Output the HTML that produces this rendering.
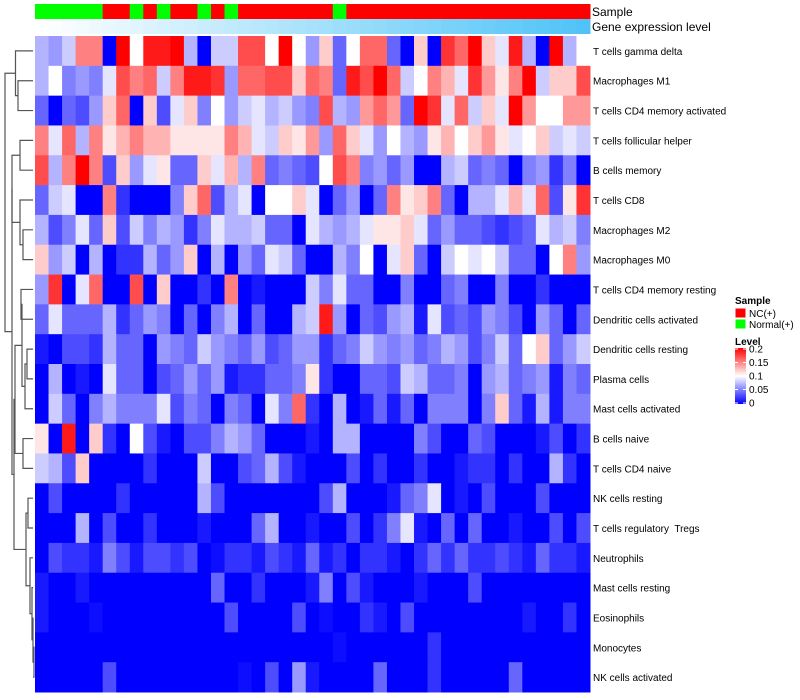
<!DOCTYPE html>
<html><head><meta charset="utf-8"><style>
html,body{margin:0;padding:0;background:#fff;}
svg{display:block;font-family:"Liberation Sans",Arial,sans-serif;}
text{white-space:pre;}
</style></head><body>
<svg id="chart" width="800" height="700" viewBox="0 0 800 700"></svg>
<script>
const rowNames = ["T cells gamma delta","Macrophages M1","T cells CD4 memory activated","T cells follicular helper","B cells memory","T cells CD8","Macrophages M2","Macrophages M0","T cells CD4 memory resting","Dendritic cells activated","Dendritic cells resting","Plasma cells","Mast cells activated","B cells naive","T cells CD4 naive","NK cells resting","T cells regulatory  Tregs","Neutrophils","Mast cells resting","Eosinophils","Monocytes","NK cells activated"];
const sampleGroups = ["N","N","N","N","N","C","C","N","C","N","C","C","N","C","N","C","C","C","C","C","C","C","N","C","C","C","C","C","C","C","C","C","C","C","C","C","C","C","C","C","C"];
const tGammaDelta = [0.07,0.06,0.08,0.15,0.15,0,0.2,0.1,0.19,0.19,0.2,0.07,0,0.08,0.08,0.17,0.17,0.1,0.2,0.1,0.06,0.12,0.04,0.1,0.16,0.16,0.04,0,0.12,0,0.18,0.16,0.2,0.12,0.09,0.19,0.07,0,0.2,0.07,0.1];
const macM1 = [0.07,0.1,0.05,0.06,0.05,0.09,0.17,0.15,0.16,0.08,0.15,0.19,0.19,0.18,0.06,0.16,0.16,0.17,0.17,0.12,0.16,0.15,0.04,0.19,0.17,0.2,0.16,0.08,0.1,0.15,0.13,0.09,0.18,0.14,0.11,0.15,0.2,0.08,0.12,0.12,0.17];
const tCD4MemAct = [0.04,0,0.04,0.03,0.06,0.12,0.16,0,0.12,0.03,0.09,0.12,0.05,0.1,0.06,0.08,0.09,0.07,0.08,0.06,0.05,0.17,0.07,0.06,0.14,0.16,0.14,0.04,0.2,0.18,0.09,0.16,0.08,0.12,0.09,0.2,0.14,0.1,0.1,0.14,0.14];
const tFollicular = [0.15,0.09,0.16,0.07,0.15,0.11,0.13,0.15,0.13,0.13,0.11,0.11,0.11,0.11,0.15,0.13,0.09,0.08,0.12,0.11,0.14,0.06,0.16,0.12,0.09,0.06,0.1,0.07,0.06,0.11,0.13,0.1,0.12,0.14,0.11,0.09,0.1,0.12,0.08,0.09,0.08];
const bMemory = [0.17,0.07,0.15,0.2,0.15,0.03,0.12,0.06,0.09,0.11,0.04,0.04,0.12,0.09,0.13,0.07,0.15,0.04,0.05,0.04,0.03,0.1,0.17,0.15,0.05,0.06,0.04,0.06,0,0,0.07,0.08,0.04,0.05,0.04,0,0.05,0.06,0.02,0.05,0];
const tCD8 = [0.04,0.08,0.09,0,0,0.15,0.02,0,0,0,0.05,0.12,0.16,0.03,0.07,0.09,0,0.1,0.1,0.12,0.09,0,0.04,0.06,0,0.04,0.15,0.11,0.12,0.15,0.04,0,0.07,0.07,0.09,0.13,0.09,0.16,0.03,0.11,0.18];
const macM2 = [0.07,0.03,0.05,0.09,0.04,0.12,0.03,0.08,0.05,0.07,0.06,0.02,0.05,0.09,0.07,0.07,0.08,0.04,0.04,0,0.09,0.07,0.06,0.07,0.09,0.11,0.11,0.12,0.09,0.04,0.06,0.04,0.04,0.03,0.02,0.03,0.04,0.09,0.07,0.08,0.05];
const macM0 = [0.12,0.06,0.08,0,0.07,0,0.02,0.02,0.07,0.04,0.06,0.12,0,0.07,0,0.06,0.04,0.09,0.08,0.04,0,0,0.07,0.05,0.1,0,0.09,0.12,0.04,0,0.08,0.1,0.09,0.1,0.08,0.04,0.04,0,0.1,0.15,0.06];
const tCD4MemRest = [0.06,0.18,0,0.09,0.16,0,0,0.17,0,0.12,0,0,0.02,0,0.15,0,0.01,0,0,0,0.08,0.05,0.09,0.04,0.04,0,0,0.05,0,0,0.04,0.05,0,0,0.05,0,0,0.02,0,0,0];
const dcActivated = [0.04,0.09,0.04,0.04,0.04,0.07,0.02,0.04,0.06,0.05,0,0.04,0,0.05,0.07,0,0.04,0,0,0.07,0.08,0.19,0.06,0,0.04,0.03,0.06,0.07,0.01,0.09,0.03,0.04,0.03,0.06,0.05,0.03,0,0.06,0.04,0,0.04];
const dcResting = [0.01,0,0.03,0.03,0.02,0.07,0.04,0.04,0,0.06,0.05,0.04,0.08,0.06,0.05,0.04,0.06,0.03,0.04,0.06,0.06,0.02,0.04,0.05,0.08,0.06,0.05,0.06,0.04,0.05,0.07,0.06,0.03,0.05,0.08,0.04,0.1,0.12,0.04,0.06,0.08];
const plasma = [0,0.07,0,0.01,0,0.09,0.04,0.04,0,0.03,0.04,0.06,0.04,0.06,0.01,0.02,0.02,0.04,0.04,0.05,0.11,0.02,0,0,0.04,0.04,0.03,0.08,0.07,0.04,0.04,0.05,0,0.06,0.07,0.04,0.05,0.06,0.01,0.05,0.04];
const mastActivated = [0,0.08,0.04,0,0.05,0.07,0.05,0.05,0.05,0.09,0.03,0.05,0.04,0,0.05,0.04,0,0.09,0.05,0.16,0.02,0,0.07,0,0.01,0.04,0.01,0.04,0,0.05,0.05,0.05,0,0.05,0.12,0.04,0.01,0.07,0.01,0.05,0.05];
const bNaive = [0.11,0,0.19,0,0.12,0.02,0,0.1,0.03,0.01,0,0.03,0.03,0.05,0.07,0.06,0.04,0,0,0,0.01,0,0.07,0.07,0,0,0,0,0.05,0.03,0,0,0.04,0.03,0,0,0,0.01,0.03,0,0.02];
const tCD4Naive = [0.08,0.07,0.03,0.12,0,0,0,0,0.02,0,0,0,0.08,0,0,0.03,0.04,0.07,0.03,0.01,0,0,0,0.03,0,0.02,0,0,0.02,0,0,0.01,0.02,0.02,0,0.02,0,0,0.07,0.02,0];
const nkResting = [0,0.03,0,0,0,0,0.02,0,0,0,0,0,0.07,0.03,0,0,0,0,0,0,0,0.03,0.07,0,0,0,0.01,0.04,0.05,0.09,0,0.01,0,0.03,0,0,0,0.03,0,0,0];
const tregs = [0,0,0,0.07,0,0.03,0,0,0.02,0,0,0,0.01,0,0,0,0.04,0.07,0,0,0.01,0,0,0.03,0,0.02,0.05,0.09,0.01,0,0.04,0,0.04,0,0,0.01,0,0,0.03,0,0.03];
const neutrophils = [0,0.03,0.02,0.02,0.01,0.05,0.03,0.01,0.03,0.03,0.02,0.03,0,0.005,0.02,0.02,0.01,0.03,0.02,0.01,0.04,0.01,0.02,0,0.02,0.02,0.01,0,0.02,0.04,0.02,0.04,0.02,0.02,0.03,0.02,0.01,0.04,0.02,0.02,0.01];
const mastResting = [0.01,0,0,0.01,0,0,0,0,0,0,0,0,0,0.04,0,0,0.02,0,0,0,0.01,0.05,0,0.03,0.01,0,0,0,0.01,0,0,0,0.03,0,0,0,0,0,0,0,0];
const eosinophils = [0.01,0,0,0,0.005,0,0,0,0,0,0,0,0,0,0.03,0,0,0,0,0.03,0,0.005,0,0,0.02,0.01,0,0.03,0,0,0,0,0,0,0,0,0.01,0,0,0.02,0];
const monocytes = [0,0,0,0,0,0,0,0,0,0,0,0,0,0,0,0,0,0,0,0,0,0,0.005,0,0,0,0,0,0,0.02,0,0,0,0,0,0,0,0,0,0,0];
const nkActivated = [0,0,0,0,0,0.03,0,0,0,0,0,0,0,0,0,0.005,0,0.03,0,0.06,0.01,0,0,0,0,0.04,0,0,0,0.02,0,0,0,0,0,0.04,0,0,0,0,0];
const series = [tGammaDelta,macM1,tCD4MemAct,tFollicular,bMemory,tCD8,macM2,macM0,tCD4MemRest,dcActivated,dcResting,plasma,mastActivated,bNaive,tCD4Naive,nkResting,tregs,neutrophils,mastResting,eosinophils,monocytes,nkActivated];
const levelTicks = [0.2,0.15,0.1,0.05,0];
const sampleLegend = ["NC(+)","Normal(+)"];
const merges = [[1,2,18],[0,22,15.5],[3,4,20],[6,7,23],[5,25,20],[24,26,12],[8,9,21],[10,11,27],[29,12,25],[28,30,22],[13,14,23],[31,32,15],[15,16,28],[20,21,34],[19,35,33],[18,36,32],[17,37,30],[34,38,26],[33,39,14],[27,40,12],[23,41,5]];

const NS="http://www.w3.org/2000/svg";
const svg=document.getElementById('chart');
const X0=35,X1=590,Y0=36,Y1=692;
const nCols=tGammaDelta.length,nRows=series.length;
const cw=(X1-X0)/nCols,rh=(Y1-Y0)/nRows;
const xScale=i=>X0+i*cw;
const yScale=r=>Y0+r*rh;
function lerp(a,b,t){return Math.round(a+(b-a)*t);}
function levelColor(v){
  let t=Math.max(0,Math.min(1,v/0.2));
  if(t<0.5){const u=t/0.5;return `rgb(${lerp(0,255,u)},${lerp(0,255,u)},255)`;}
  const u=(t-0.5)/0.5;return `rgb(255,${lerp(255,0,u)},${lerp(255,0,u)})`;
}
function el(tag,attrs,parent){const e=document.createElementNS(NS,tag);for(const k in attrs)e.setAttribute(k,attrs[k]);(parent||svg).appendChild(e);return e;}

const gS=el('g',{});


sampleGroups.forEach((g,i)=>{
  const r=el('rect',{x:xScale(i),y:4,width:cw+0.5,height:15,fill:g==="N"?"#00ff00":"#ff0000"},gS);
  
  
});
const gG=el('g',{});


for(let i=0;i<nCols;i++){
  const t=i/(nCols-1);
  const r=el('rect',{x:xScale(i),y:19,width:cw+0.5,height:15,fill:`rgb(${lerp(255,79,t)},${lerp(255,195,t)},${lerp(255,247,t)})`},gG);
  
  
}
const t1=el('text',{x:592,y:16,'font-size':12,fill:'#000'});t1.textContent='Sample';


const t2=el('text',{x:592,y:31,'font-size':12,fill:'#000'});t2.textContent='Gene expression level';



const gH=el('g',{});


series.forEach((row,r)=>{
  row.forEach((v,c)=>{
    const rect=el('rect',{x:xScale(c),y:yScale(r),width:cw+0.5,height:rh+0.5,fill:levelColor(v)},gH);
    
    
  });
  const lab=el('text',{x:593,y:yScale(r)+rh/2+4,'font-size':10,fill:'#000'});
  lab.textContent=rowNames[r];
  
  
});

const gD=el('g',{stroke:'#555','stroke-width':1.2,fill:'none'});


const nodeY={},nodeX={};
for(let i=0;i<nRows;i++){nodeY[i]=yScale(i)+rh/2;nodeX[i]=33;}
merges.forEach((m,k)=>{
  const id=nRows+k,[a,b,h]=m;
  const p=el('path',{d:`M${nodeX[a]},${nodeY[a]}H${h}V${nodeY[b]}H${nodeX[b]}`},gD);
  
  
  nodeX[id]=h;nodeY[id]=(nodeY[a]+nodeY[b])/2;
});

const gL=el('g',{});


const ls=el('text',{x:735,y:304,'font-size':10,'font-weight':'bold'},gL);ls.textContent='Sample';


sampleLegend.forEach((s,i)=>{
  const r=el('rect',{x:735,y:308+i*11,width:11,height:10,fill:i===0?'#ff0000':'#00ff00',stroke:'#fff'},gL);
  
  
  const t=el('text',{x:749,y:317+i*11,'font-size':10},gL);t.textContent=s;
  
  
});
const lt=el('text',{x:735,y:345,'font-size':10,'font-weight':'bold'},gL);lt.textContent='Level';


const defs=el('defs',{});
const grad=el('linearGradient',{id:'lg',x1:0,y1:0,x2:0,y2:1},defs);
el('stop',{offset:'0','stop-color':'#ff0000'},grad);
el('stop',{offset:'0.5','stop-color':'#ffffff'},grad);
el('stop',{offset:'1','stop-color':'#0000ff'},grad);
const LB0=348,LB1=404;
const bar=el('rect',{x:735,y:LB0,width:11,height:LB1-LB0,fill:'url(#lg)'},gL);


levelTicks.forEach(v=>{
  const y=LB1-(v/0.2)*(LB1-LB0-2)-1;
  el('line',{x1:735,x2:738,y1:y,y2:y,stroke:'#fff'},gL);
  el('line',{x1:743,x2:746,y1:y,y2:y,stroke:'#fff'},gL);
  const t=el('text',{x:749,y:y+3.5,'font-size':10},gL);t.textContent=String(v);
  
  
});
</script>
</body></html>
